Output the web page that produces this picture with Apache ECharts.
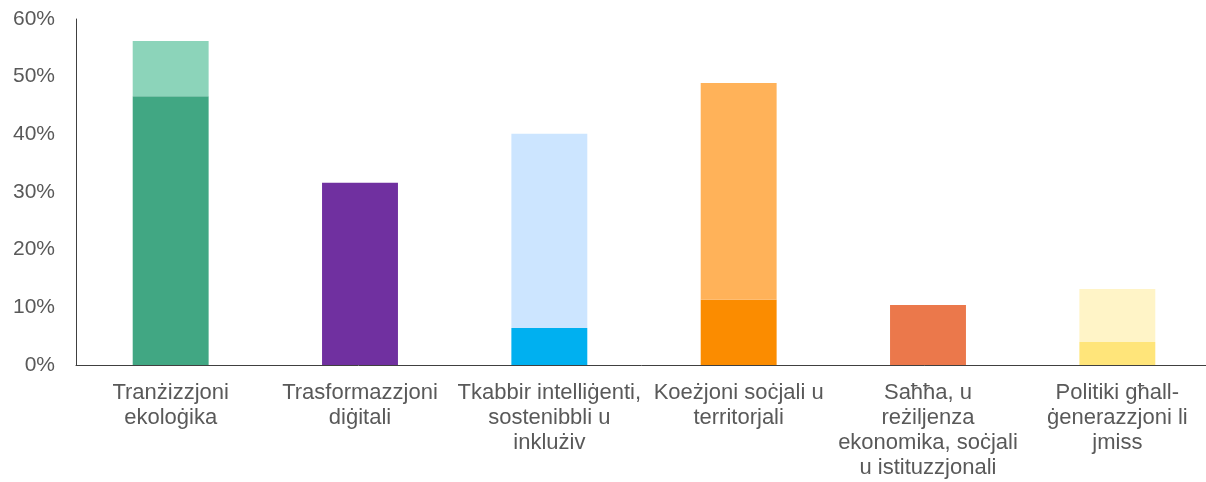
<!DOCTYPE html>
<html>
<head>
<meta charset="utf-8">
<script src="https://cdn.jsdelivr.net/npm/echarts@6/dist/echarts.min.js"></script>
<style>
  html, body { margin: 0; padding: 0; background: #fff; }
  #chart { width: 1206px; height: 482px; }
</style>
</head>
<body>
<div id="chart"></div>
<script>
// categories (line breaks as in the picture)
var categories = [
  "Tranżizzjoni\nekoloġika",
  "Trasformazzjoni\ndiġitali",
  "Tkabbir intelliġenti,\nsostenibbli u\ninklużiv",
  "Koeżjoni soċjali u\nterritorjali",
  "Saħħa, u\nreżiljenza\nekonomika, soċjali\nu istituzzjonali",
  "Politiki għall-\nġenerazzjoni li\njmiss"
];
// lower (dark) part and upper (light) part, in %
var baseValues = [46.6, 31.6, 6.4, 11.3, 10.4, 4.0];
var extraValues = [9.6, 0, 33.7, 37.6, 0, 9.2];
var darkColors = ["#41A783", "#7030A0", "#00B0F0", "#FB8C00", "#EB784B", "#FFE57A"];
var lightColors = ["#8CD4BA", "#7030A0", "#CCE5FF", "#FFB259", "#EB784B", "#FFF4C7"];
var yTicks = [0, 10, 20, 30, 40, 50, 60];

var chart = echarts.init(document.getElementById("chart"));

var option = {
  animation: false,
  textStyle: { fontFamily: "Liberation Sans, Arial, sans-serif" },
  // the plot runs a bit past the right edge, as in the original
  grid: { left: 76, right: -6, top: 19, bottom: 117, outerBoundsMode: "none" },
  xAxis: {
    type: "category",
    data: categories,
    axisLine: { lineStyle: { color: "#404040", width: 1 } },
    axisTick: { show: false },
    axisLabel: {
      interval: 0,
      color: "#595959",
      fontSize: 22,
      lineHeight: 25,
      margin: 15
    }
  },
  yAxis: {
    type: "value",
    min: yTicks[0],
    max: yTicks[yTicks.length - 1],
    interval: 10,
    splitLine: { show: false },
    axisLine: { show: true, lineStyle: { color: "#404040", width: 1 } },
    axisTick: { show: false },
    axisLabel: {
      color: "#595959",
      fontSize: 21,
      margin: 21,
      formatter: "{value}%"
    }
  },
  series: [
    {
      name: "base",
      type: "bar",
      stack: "total",
      barWidth: "40.1%",
      data: baseValues.map(function (v, i) {
        return { value: v, itemStyle: { color: darkColors[i] } };
      })
    },
    {
      name: "extra",
      type: "bar",
      stack: "total",
      barWidth: "40.1%",
      data: extraValues.map(function (v, i) {
        return { value: v, itemStyle: { color: lightColors[i] } };
      })
    }
  ]
};

chart.setOption(option);
</script>
</body>
</html>
